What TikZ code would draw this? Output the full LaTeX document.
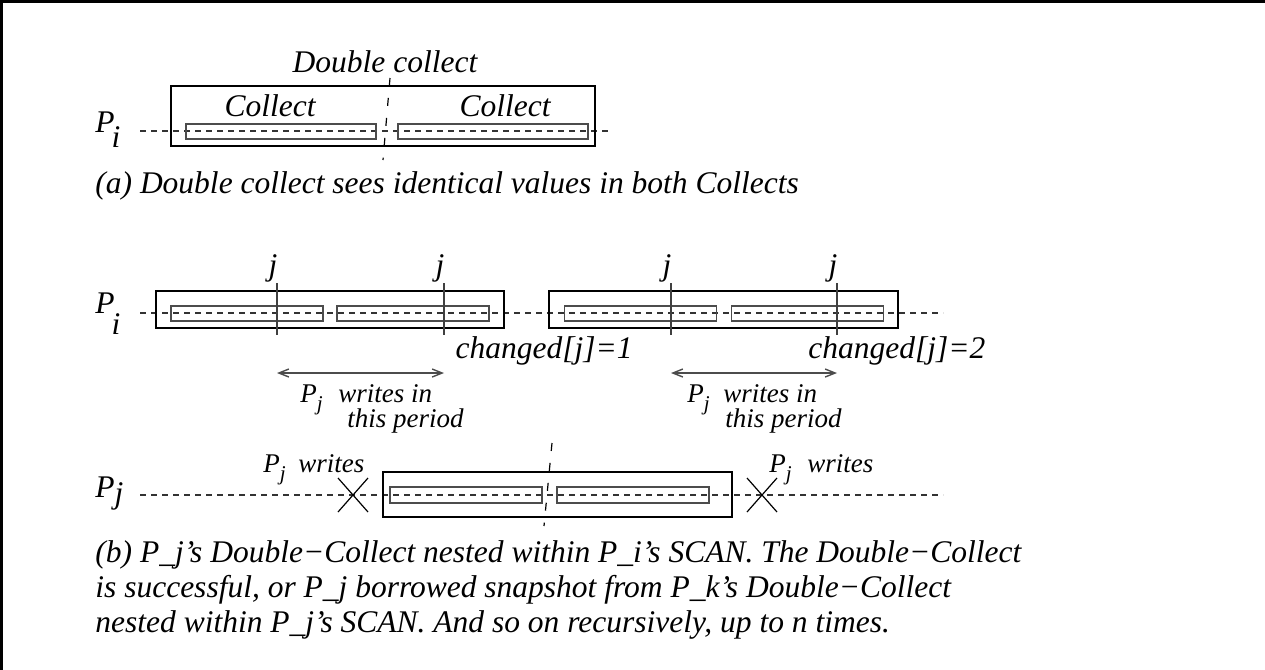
\documentclass[tikz,border=0pt]{standalone}
\usepackage{fontspec}
\setmainfont{Liberation Serif}
\usetikzlibrary{arrows.meta,positioning}
\newcommand{\psubj}{P\raisebox{-0.3em}{\fontsize{10.5}{11}\selectfont j}}
\tikzset{
  every node/.style={inner sep=0pt, font=\fontsize{15.75}{17.5}\selectfont\itshape},
  smalltext/.style={font=\fontsize{13.5}{15}\selectfont\itshape},
  framerule/.style={line width=1.6pt, black},
  timeline/.style={line width=0.6pt, black!80, dash pattern=on 3pt off 2.5pt},
  splitline/.style={line width=0.6pt, black, dash pattern=on 4pt off 6pt},
  jline/.style={line width=0.7pt, black!75},
  outerbox/.style={draw, line width=0.7pt, black},
  innerbox/.style={draw, line width=0.7pt, black!70, minimum height=7.5pt},
  period/.style={{Straight Barb[length=5pt,width=4pt]}-{Straight Barb[length=5pt,width=4pt]}, line width=0.7pt, black!70},
  crossline/.style={line width=0.6pt, black}
}
\begin{document}
\begin{tikzpicture}[x=0.5pt, y=-0.5pt]
  \useasboundingbox (0,0) rectangle (1265,670);
  \draw[framerule] (1,670) -- (1,1) -- (1265,1);

  % (a) double collect of P_i
  \coordinate (ta0) at (140,131);
  \coordinate (ta1) at (608,131);
  \draw[timeline] (ta0) -- (ta1);
  \node[outerbox, minimum width=212pt, minimum height=30pt] (dca) at (383,116) {};
  \node[innerbox, minimum width=95pt] (ca1) at (281,131.5) {};
  \node[innerbox, minimum width=95pt] (ca2) at (493,131.5) {};
  \node[anchor=base] (lca1) at (270,116) {Collect};
  \node[anchor=base] (lca2) at (505,116) {Collect};
  \node[anchor=base] (ldca) at (385,72) {Double collect};
  \coordinate (sa0) at (390,78);
  \coordinate (sa1) at (383,160);
  \draw[splitline] (sa0) -- (sa1);
  \node[anchor=base west] (pia) at (95,132) {P\raisebox{-7.5pt}{\kern-1.5pt i}};
  \node[anchor=base west] (capa) at (95,193) {(a) Double collect sees identical values in both Collects};

  % (b) two failed double collects of P_i
  \coordinate (tb0) at (140,313);
  \coordinate (tb1) at (943,313);
  \draw[timeline] (tb0) -- (tb1);
  \node[outerbox, minimum width=174pt, minimum height=18.5pt] (scan1) at (330,309.5) {};
  \node[outerbox, minimum width=174.5pt, minimum height=18.5pt] (scan2) at (723.5,309.5) {};
  \node[innerbox, minimum width=76pt] (cb1) at (247,313.5) {};
  \node[innerbox, minimum width=76pt] (cb2) at (413,313.5) {};
  \node[innerbox, minimum width=76pt] (cb3) at (640.5,313.5) {};
  \node[innerbox, minimum width=76pt] (cb4) at (807.5,313.5) {};
  \foreach \x [count=\k] in {277,444,671,837} {
    \coordinate (jt\k) at (\x,283);
    \coordinate (jb\k) at (\x,335);
    \draw[jline] (jt\k) -- (jb\k);
    \node[anchor=base] (lj\k) at (\x-4,275) {j};
  }
  \node[anchor=base east] (chg1) at (633,358) {changed[j]=1};
  \node[anchor=base west] (chg2) at (808,358) {changed[j]=2};
  \coordinate (pa0) at (277,373);
  \coordinate (pa1) at (444,373);
  \coordinate (pb0) at (671,373);
  \coordinate (pb1) at (837,373);
  \draw[period] (pa0) -- (pa1);
  \draw[period] (pb0) -- (pb1);
  \node[smalltext, anchor=base west] (wpa) at (300,402) {\psubj};
  \node[smalltext, anchor=base west, text depth=0pt] (wia) at (338,402) {writes in};
  \node[smalltext, anchor=base west, text height=8.5pt] (tpa) at (347,427) {this period};
  \node[smalltext, anchor=base west] (wpb) at (687,402) {\psubj};
  \node[smalltext, anchor=base west, text depth=0pt] (wib) at (723,402) {writes in};
  \node[smalltext, anchor=base west, text height=8.5pt] (tpb) at (725,427) {this period};
  \node[anchor=base west] (pib) at (95,313) {P\raisebox{-10.5pt}{\kern-1.5pt i}};

  % nested double collect of P_j
  \coordinate (tc0) at (140,495);
  \coordinate (tc1) at (943,495);
  \draw[timeline] (tc0) -- (tc1);
  \node[outerbox, minimum width=174.5pt, minimum height=22.5pt] (dcj) at (557.5,494.5) {};
  \node[innerbox, minimum width=76pt, minimum height=8pt] (cj1) at (466,495) {};
  \node[innerbox, minimum width=76pt, minimum height=8pt] (cj2) at (633,495) {};
  \coordinate (sc0) at (552,443);
  \coordinate (sc1) at (544,526);
  \draw[splitline] (sc0) -- (sc1);
  \foreach \x [count=\k] in {353,762} {
    \draw[crossline] (\x-15,478) -- (\x+15,512);
    \draw[crossline] (\x-15,512) -- (\x+15,478);
  }
  \node[smalltext, anchor=base west] (wpc) at (263,472) {\psubj};
  \node[smalltext, anchor=base west] (wrc) at (298,472) {writes};
  \node[smalltext, anchor=base west] (wpd) at (769,472) {\psubj};
  \node[smalltext, anchor=base west] (wrd) at (807,472) {writes};
  \node[anchor=base west] (pjc) at (95,497) {P\raisebox{-3pt}{j}};

  \node[anchor=base west] (capb1) at (95,562) {(b) P\_j’s Double−Collect nested within P\_i’s SCAN. The Double−Collect};
  \node[anchor=base west] (capb2) at (95,597) {is successful, or P\_j borrowed snapshot from P\_k’s Double−Collect};
  \node[anchor=base west] (capb3) at (95,632) {nested within P\_j’s SCAN. And so on recursively, up to n times.};
\end{tikzpicture}
\end{document}
